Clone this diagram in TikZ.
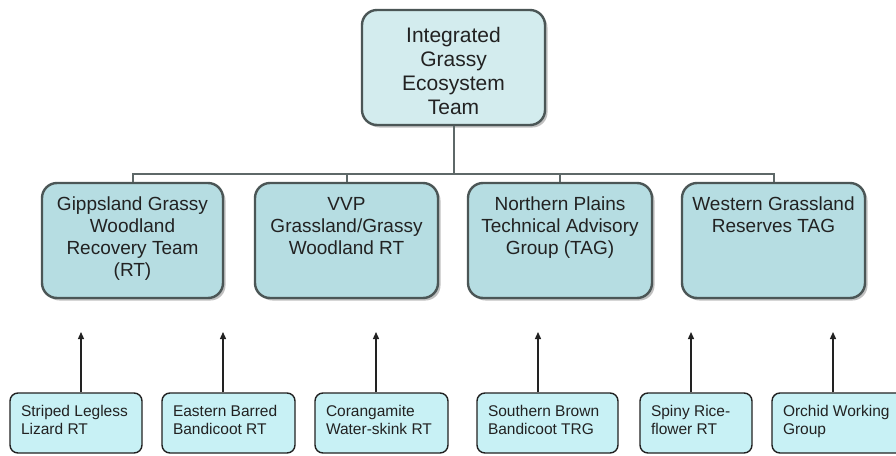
\documentclass[tikz,border=0pt]{standalone}
\usepackage{fontspec}
\setmainfont{Liberation Sans}
\usetikzlibrary{shadows,arrows.meta}
\definecolor{topfill}{HTML}{D3ECEE}
\definecolor{midfill}{HTML}{B6DDE2}
\definecolor{lowfill}{HTML}{C8F1F5}
\definecolor{edge}{HTML}{4B5656}
\definecolor{wire}{HTML}{5E6868}
\definecolor{ink}{HTML}{222222}
\newcommand{\grouptext}[2]{\parbox[c][36pt][t]{#1}{\raggedright\fontsize{15.5}{18.5}\selectfont #2}}
\begin{document}
\begin{tikzpicture}[x=1pt,y=-1pt,
  shade box/.style={drop shadow={shadow xshift=2.5pt,shadow yshift=-2.5pt,opacity=0.35,fill=black!70}},
  headbox/.style={draw=edge,line width=2.4pt,fill=topfill,rounded corners=15pt,
    inner sep=0pt,minimum height=115pt,shade box,text=ink},
  teambox/.style={draw=edge,line width=2.4pt,fill=midfill,rounded corners=15pt,
    inner sep=0pt,minimum height=115pt,shade box,text=ink},
  groupbox/.style={draw=ink,line width=1.4pt,fill=lowfill,rounded corners=8pt,
    inner sep=0pt,minimum height=60pt,text=ink},
  wire/.style={draw=wire,line width=2pt},
  uplink/.style={draw=ink,line width=1.3pt,-{Triangle[length=7pt,width=6pt]}}
]
\useasboundingbox (0,0) rectangle (896,455);
\fill[white] (0,0) rectangle (896,455);

% top level
\node[headbox,minimum width=183pt] (igt) at (453.5,67.5)
  {\parbox[c][81pt][t]{175pt}{\centering\fontsize{21}{24}\selectfont
   Integrated\\Grassy\\Ecosystem\\Team}};

% second level
\node[teambox,minimum width=181pt] (gipps) at (132.5,240.5)
  {\parbox[c][87pt][t]{175pt}{\centering\fontsize{19}{22}\selectfont
   Gippsland Grassy\\Woodland\\Recovery Team\\(RT)}};
\node[teambox,minimum width=183pt] (vvp) at (346.5,240.5)
  {\parbox[c][87pt][t]{177pt}{\centering\fontsize{19}{22}\selectfont
   VVP\\Grassland/Grassy\\Woodland RT}};
\node[teambox,minimum width=184pt] (north) at (560,240.5)
  {\parbox[c][87pt][t]{178pt}{\centering\fontsize{19}{22}\selectfont
   Northern Plains\\Technical Advisory\\Group (TAG)}};
\node[teambox,minimum width=183pt] (west) at (773.5,240.5)
  {\parbox[c][87pt][t]{177pt}{\centering\fontsize{19}{22}\selectfont
   Western Grassland\\Reserves TAG}};

% connectors from the top box
\coordinate (bus) at (453.5,174);
\draw[wire] (igt.south) -- (bus);
\draw[wire] (gipps.north) |- (bus) -| (west.north);
\draw[wire] (vvp.north) -- (vvp.north |- bus);
\draw[wire] (north.north) -- (north.north |- bus);

% third level
\node[groupbox,minimum width=132pt] (lizard) at (76,423)
  {\grouptext{110pt}{Striped Legless\\Lizard RT}};
\node[groupbox,minimum width=133pt] (barred) at (228.5,423)
  {\grouptext{111pt}{Eastern Barred\\Bandicoot RT}};
\node[groupbox,minimum width=133pt] (skink) at (381.5,423)
  {\grouptext{111pt}{Corangamite\\Water-skink RT}};
\node[groupbox,minimum width=141pt] (brown) at (547.5,423)
  {\grouptext{119pt}{Southern Brown\\Bandicoot TRG}};
\node[groupbox,minimum width=112pt] (rice) at (696,423)
  {\grouptext{90pt}{Spiny Rice-\\flower RT}};
\node[groupbox,minimum width=134pt] (orchid) at (839,423)
  {\grouptext{112pt}{Orchid Working\\Group}};

% upward arrows
\coordinate (tipA) at (81,332);
\coordinate (tipB) at (223,332);
\coordinate (tipC) at (376,332);
\coordinate (tipD) at (538,332);
\coordinate (tipE) at (691,332);
\coordinate (tipF) at (833,332);
\draw[uplink] (tipA |- lizard.north) -- (tipA);
\draw[uplink] (tipB |- barred.north) -- (tipB);
\draw[uplink] (tipC |- skink.north) -- (tipC);
\draw[uplink] (tipD |- brown.north) -- (tipD);
\draw[uplink] (tipE |- rice.north) -- (tipE);
\draw[uplink] (tipF |- orchid.north) -- (tipF);
\end{tikzpicture}
\end{document}
